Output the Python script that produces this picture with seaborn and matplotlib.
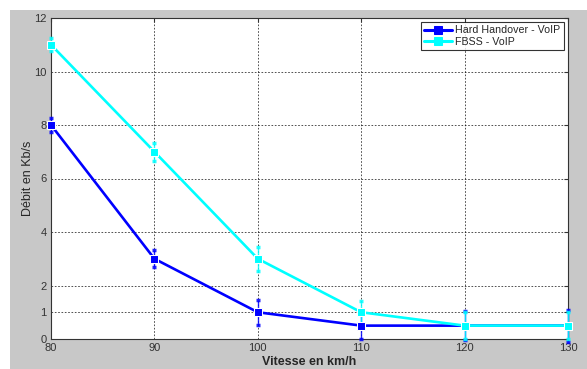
import seaborn as sns
import numpy as np
import pandas as pd
import matplotlib
matplotlib.use('Agg')
import matplotlib.pyplot as plt
from matplotlib.patches import Rectangle

# Données
vitesse = [80, 90, 100, 110, 120, 130]
hard_handover = [8, 3, 1, 0.5, 0.5, 0.5]
hard_err = [0.28, 0.32, 0.47, 0.5, 0.55, 0.6]
fbss = [11, 7, 3, 1, 0.5, 0.5]
fbss_err = [0.25, 0.33, 0.44, 0.43, 0.5, 0.5]
series = ['Hard Handover - VoIP', 'FBSS - VoIP']
couleurs = ['#0000ff', '#00ffff']
yticks = [0, 1, 2, 4, 6, 8, 10, 12]

df = pd.DataFrame({
    'vitesse': vitesse * 2,
    'debit': hard_handover + fbss,
    'serie': [series[0]] * len(vitesse) + [series[1]] * len(vitesse),
})

sns.set_style('white')
plt.rcParams['font.family'] = ['Liberation Sans', 'DejaVu Sans']

fig = plt.figure(figsize=(5.87, 3.69), dpi=100, facecolor='white')
fig.patches.append(Rectangle((10 / 587, 0), 1, 1 - 10 / 369, transform=fig.transFigure,
                             facecolor='#c8c8c8', edgecolor='none', zorder=-10))
ax = fig.add_axes([51 / 587, 1 - 339 / 369, (568 - 51) / 587, (339 - 18) / 369])
ax.set_facecolor('white')

# barres d'erreur
for y, e, c in [(hard_handover, hard_err, couleurs[0]), (fbss, fbss_err, couleurs[1])]:
    ax.errorbar(vitesse, y, yerr=e, fmt='none', ecolor=c, elinewidth=1,
                capsize=1.2, capthick=2.5, alpha=0.85, zorder=3, clip_on=False)

sns.lineplot(data=df, x='vitesse', y='debit', hue='serie', palette=couleurs,
             marker='s', markersize=6, linewidth=1.9,
             ax=ax, zorder=4, clip_on=False)
for line, c in zip(ax.lines[-2:], couleurs):
    line.set_markeredgecolor(c)

ax.set_xlim(80, 130)
ax.set_ylim(0, 12)
ax.set_xticks(vitesse)
ax.set_yticks(yticks)
ax.grid(True, color='black', linestyle=(0, (2, 2)), linewidth=0.6, alpha=0.8)
ax.tick_params(direction='in', length=3, labelsize=8, colors='#333333', pad=3,
               top=True, right=True)
for s in ax.spines.values():
    s.set_color('#333333')
    s.set_linewidth(0.8)

ax.set_xlabel('Vitesse en km/h', fontsize=9, fontweight='bold', labelpad=2)
ax.set_ylabel('Débit en Kb/s', fontsize=9, labelpad=0)

leg = ax.legend(loc='upper right', fontsize=7.7, frameon=True, fancybox=False,
                borderaxespad=0.4, handlelength=2.6, borderpad=0.3, labelspacing=0.15,
                handletextpad=0.3)
leg.get_frame().set_edgecolor('black')
leg.get_frame().set_linewidth(0.8)
for h in leg.get_lines():
    h.set_linewidth(2.2)

plt.savefig('out.png', dpi=100)
